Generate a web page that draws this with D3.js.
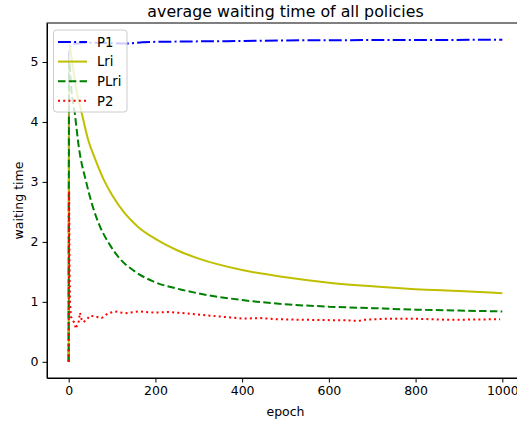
<!DOCTYPE html>
<html>
<head>
<meta charset="utf-8">
<script src="https://cdn.jsdelivr.net/npm/d3@7"></script>
<style>
  body { margin: 0; background: #fff; }
  svg { font-family: "DejaVu Sans", sans-serif; }
</style>
</head>
<body>
<div id="chart"></div>
<script>
// values: [epoch, waiting time]
var p1 = [[0,0],[1,5.2],[10,5.3],[50,5.32],[120,5.31],[140,5.31],[170,5.33],[250,5.34],[400,5.35],[500,5.36],[700,5.365],[1000,5.37]];
var lri = [[0,0],[1,5.3],[10,4.9],[20,4.45],[30,4.15],[45,3.7],[60,3.4],[80,3.05],[100,2.78],[130,2.47],[160,2.25],[200,2.05],[250,1.86],[300,1.72],[400,1.53],[500,1.41],[600,1.32],[700,1.26],[800,1.21],[900,1.18],[1000,1.145]];
var plri = [[0,0],[1,5.0],[6,4.55],[14,4.15],[23,3.6],[41,2.98],[55,2.6],[72,2.26],[95,1.95],[118,1.72],[150,1.52],[195,1.34],[250,1.22],[300,1.14],[400,1.03],[500,0.96],[600,0.92],[700,0.895],[800,0.87],[900,0.855],[1000,0.84]];
var p2 = [[0,0],[1,2.85],[2,1.6],[3,1.0],[5,0.75],[7,0.73],[10,0.68],[14,0.65],[16,0.55],[19,0.6],[22,0.62],[26,0.82],[30,0.7],[34,0.66],[41,0.70],[49,0.77],[61,0.755],[76,0.73],[91,0.81],[107,0.84],[130,0.81],[161,0.84],[199,0.82],[230,0.83],[268,0.81],[311,0.78],[372,0.74],[403,0.72],[441,0.73],[479,0.71],[550,0.70],[649,0.69],[668,0.68],[680,0.70],[741,0.72],[794,0.72],[880,0.70],[995,0.71]];

var seriesNames = ["P1", "Lri", "PLri", "P2"];
var xTicks = [0, 200, 400, 600, 800, 1000];
var yTicks = [0, 1, 2, 3, 4, 5];

var series = [
  {name: "P1",   data: p1,   color: "#0000ff", dash: "12.9,3.2,2,3.2", curve: d3.curveMonotoneX},
  {name: "Lri",  data: lri,  color: "#bfbf00", dash: null,             curve: d3.curveMonotoneX},
  {name: "PLri", data: plri, color: "#008000", dash: "7.5,3.3",        curve: d3.curveMonotoneX},
  {name: "P2",   data: p2,   color: "#ff0000", dash: "2,3.2",          curve: d3.curveLinear}
];

var W = 517, H = 421;
var margin = {top: 23, left: 47, bottom: 43, right: -7};
var width = W - margin.left - margin.right,
    height = H - margin.top - margin.bottom;

var svg = d3.select("#chart").append("svg")
    .attr("width", W)
    .attr("height", H);

var g = svg.append("g")
    .attr("transform", "translate(" + margin.left + "," + margin.top + ")");

var x = d3.scaleLinear().domain([-50, 1050]).range([0, width]);
var y = d3.scaleLinear().domain([-0.27, 5.65]).range([height, 0]);

// lines
var line = d3.line()
    .x(function(d) { return x(d[0]); })
    .y(function(d) { return y(d[1]); });

series.forEach(function(s) {
  g.append("path")
      .datum(s.data)
      .attr("fill", "none")
      .attr("stroke", s.color)
      .attr("stroke-width", 2)
      .attr("stroke-dasharray", s.dash)
      .attr("d", line.curve(s.curve));
});

// axes
var xAxis = g.append("g")
    .attr("transform", "translate(0," + height + ")")
    .call(d3.axisBottom(x).tickValues(xTicks).tickFormat(d3.format("d"))
      .tickSize(4.5).tickPadding(4).tickSizeOuter(0));
var yAxis = g.append("g")
    .call(d3.axisLeft(y).tickValues(yTicks).tickFormat(d3.format("d"))
      .tickSize(4.5).tickPadding(4).tickSizeOuter(0));

[xAxis, yAxis].forEach(function(a) {
  a.selectAll("text").attr("font-size", 12.5).attr("fill", "#000")
      .style("font-family", "DejaVu Sans, sans-serif");
  a.selectAll("line").attr("stroke", "#000");
  a.select(".domain").attr("stroke", "#000");
});

// frame
g.append("rect")
    .attr("width", width).attr("height", height)
    .attr("fill", "none").attr("stroke", "#000").attr("stroke-width", 1);

// title and labels
svg.append("text")
    .attr("x", margin.left + width / 2).attr("y", 17)
    .attr("text-anchor", "middle").attr("font-size", 15.8)
    .text("average waiting time of all policies");

svg.append("text")
    .attr("x", margin.left + width / 2).attr("y", 416)
    .attr("text-anchor", "middle").attr("font-size", 12.5)
    .text("epoch");

svg.append("text")
    .attr("transform", "translate(23," + (margin.top + height / 2) + ") rotate(-90)")
    .attr("text-anchor", "middle").attr("font-size", 12.5)
    .text("waiting time");

// legend
var legend = g.append("g").attr("transform", "translate(6.5,7)");
legend.append("rect")
    .attr("width", 73.5).attr("height", 82)
    .attr("rx", 3).attr("ry", 3)
    .attr("fill", "#fff").attr("fill-opacity", 0.8)
    .attr("stroke", "#ccc").attr("stroke-width", 1);

series.forEach(function(s, i) {
  var ly = 12 + i * 19.6;
  legend.append("line")
      .attr("x1", 4.5).attr("x2", 33.5)
      .attr("y1", ly).attr("y2", ly)
      .attr("stroke", s.color).attr("stroke-width", 2)
      .attr("stroke-dasharray", s.dash);
  legend.append("text")
      .attr("x", 43.5).attr("y", ly + 4.8)
      .attr("font-size", 13.2)
      .text(seriesNames[i]);
});
</script>
</body>
</html>
